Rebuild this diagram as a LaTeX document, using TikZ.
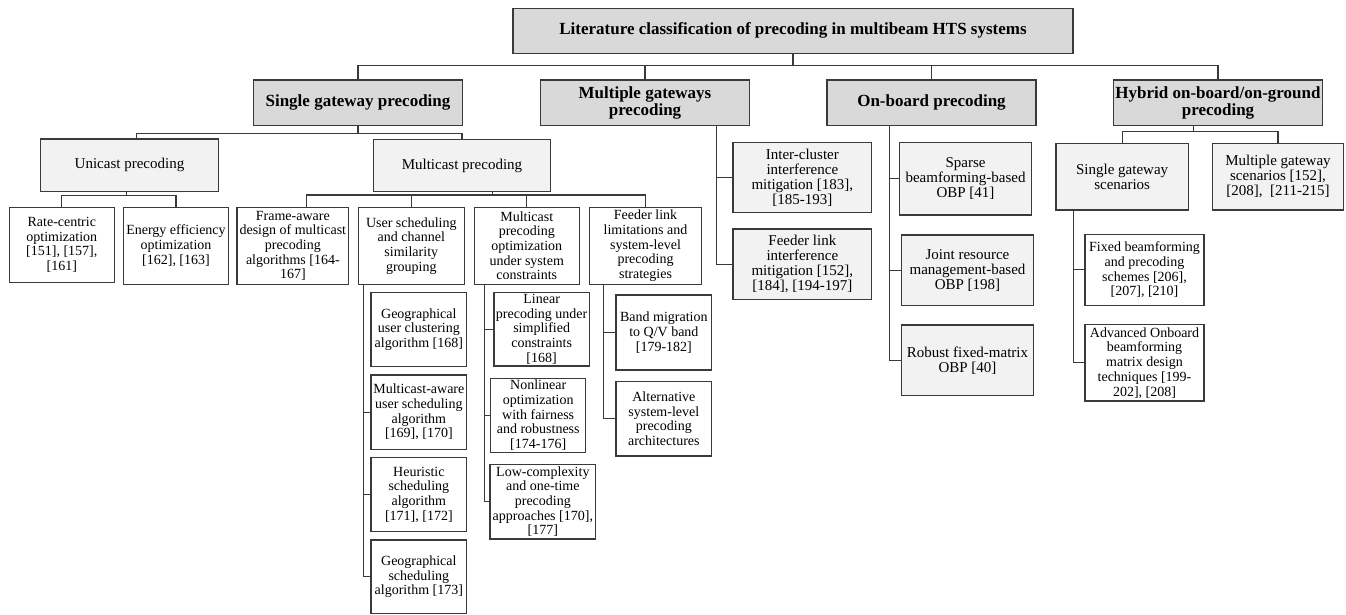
\documentclass[tikz,border=0pt]{standalone}
\usepackage{fontspec}
\setmainfont{Liberation Serif}
\definecolor{edge}{HTML}{3A3A3A}
\definecolor{boxdark}{HTML}{D9D9D9}
\definecolor{boxlight}{HTML}{F2F2F2}
\begin{document}
\begin{tikzpicture}[x=1pt,y=-1pt,
  box/.style={draw=edge, line width=1.1pt, inner xsep=1pt, inner ysep=0pt, align=center, text=black},
  sz/.style 2 args={minimum width=#1pt, minimum height=#2pt},
  topbox/.style={box, fill=boxdark, font=\fontsize{17}{17.3}\selectfont\bfseries},
  midbox/.style={box, fill=boxlight, font=\fontsize{15}{15}\selectfont},
  leafbox/.style={box, fill=white, font=\fontsize{14}{14.7}\selectfont},
  conn/.style={draw=edge, line width=1.1pt}]
\useasboundingbox (0,0) rectangle (1346,614);

% root and first level
\node[topbox, sz={560}{45}] (root) at (793,30.8) {Literature classification of precoding in multibeam HTS systems};
\node[topbox, sz={209}{45.7}] (sgp) at (358,102.85) {Single gateway precoding};
\node[topbox, sz={209}{45.7}] (mgp) at (645,102.85) {Multiple gateways\\precoding};
\node[topbox, sz={209}{45.7}] (obp) at (931.5,102.85) {On-board precoding};
\node[topbox, sz={209}{45.7}] (hyb) at (1218,102.85) {Hybrid on-board/on-ground\\precoding};

% single gateway branch
\node[midbox, sz={177.6}{52.7}] (uni) at (129.5,165.35) {Unicast precoding};
\node[midbox, sz={177.4}{52.4}] (mul) at (462,165.5) {Multicast precoding};

\node[leafbox, sz={105}{75}] (rate) at (61.8,244.8) {Rate-centric\\optimization\\{[151]}, [157],\\{[161]}};
\node[leafbox, sz={105.4}{77}] (energy) at (176,245.8) {Energy efficiency\\optimization\\{[162]}, [163]};
\node[leafbox, sz={111.7}{77}] (frame) at (292.85,245.8) {Frame-aware\\design of multicast\\precoding\\algorithms [164-\\167]};
\node[leafbox, sz={106}{77}] (us) at (411.3,245.8) {User scheduling\\and channel\\similarity\\grouping};
\node[leafbox, sz={105}{77}] (mpo) at (526.8,245.8) {Multicast\\precoding\\optimization\\under system\\constraints};
\node[leafbox, sz={112.4}{77}] (flp) at (645.5,245.8) {Feeder link\\limitations and\\system-level\\precoding\\strategies};

\node[leafbox, sz={95.7}{74.4}] (guc) at (418.85,329.5) {Geographical\\user clustering\\algorithm [168]};
\node[leafbox, sz={95.7}{74.3}] (mas) at (418.85,412.15) {Multicast-aware\\user scheduling\\algorithm\\{[169]}, [170]};
\node[leafbox, sz={95.7}{74.4}] (heu) at (418.85,494.5) {Heuristic\\scheduling\\algorithm\\{[171]}, [172]};
\node[leafbox, sz={95.7}{73.3}] (gsa) at (418.85,576.65) {Geographical\\scheduling\\algorithm [173]};

\node[leafbox, sz={95.3}{73.7}] (lin) at (541.65,329.15) {Linear\\precoding under\\simplified\\constraints\\{[168]}};
\node[leafbox, sz={95}{74}] (nonlin) at (538.2,415.3) {Nonlinear\\optimization\\with fairness\\and robustness\\{[174-176]}};
\node[leafbox, sz={105.7}{74.7}] (low) at (542.85,501.65) {Low-complexity\\and one-time\\precoding\\approaches [170],\\{[177]}};

\node[leafbox, sz={95.7}{75}] (band) at (663.85,332.5) {Band migration\\to Q/V band\\{[179-182]}};
\node[leafbox, sz={95.7}{74.3}] (alt) at (663.85,418.85) {Alternative\\system-level\\precoding\\architectures};

% multiple gateways branch
\node[midbox, sz={138.7}{70.4}] (icm) at (802.35,177.5) {Inter-cluster\\interference\\mitigation [183],\\{[185-193]}};
\node[midbox, sz={138.7}{70.3}] (fli) at (802.35,264.15) {Feeder link\\interference\\mitigation [152],\\{[184]}, [194-197]};

% on-board branch
\node[midbox, sz={132.4}{72.3}] (sparse) at (965.5,178.85) {Sparse\\beamforming-based\\OBP [41]};
\node[midbox, sz={131.6}{70.3}] (joint) at (967.5,270.15) {Joint resource\\management-based\\OBP [198]};
\node[midbox, sz={131.6}{70.7}] (robust) at (967.5,360.35) {Robust fixed-matrix\\OBP [40]};

% hybrid branch
\node[midbox, sz={132.3}{66.7}] (sgs) at (1122.15,176.65) {Single gateway\\scenarios};
\node[midbox, sz={130.6}{66.7}] (mgs) at (1278,176.65) {Multiple gateway\\scenarios [152],\\{[208]},~~[211-215]};
\node[leafbox, sz={119}{71}] (fixed) at (1144.5,269.8) {Fixed beamforming\\and precoding\\schemes [206],\\{[207]}, [210]};
\node[leafbox, sz={119}{76.3}] (adv) at (1144.5,362.85) {Advanced Onboard\\beamforming\\matrix design\\techniques [199-\\202], [208]};

% bus levels
\coordinate (bus0) at (0,65.7);
\coordinate (bus1) at (0,133.3);
\coordinate (bus2) at (0,195.7);
\coordinate (bus3) at (0,195);
\coordinate (bus4) at (0,131.7);

% root to first level
\draw[conn] (root.south) -- (root.south |- bus0);
\draw[conn] (sgp.north) -- (sgp.north |- bus0) -- (hyb.north |- bus0) -- (hyb.north);
\draw[conn] (mgp.north) -- (mgp.north |- bus0);
\draw[conn] (obp.north) -- (obp.north |- bus0);

% single gateway precoding
\draw[conn] (sgp.south) -- (sgp.south |- bus1);
\draw[conn] ([xshift=7.2pt]uni.north) -- ([xshift=7.2pt]uni.north |- bus1) -- (mul.north |- bus1) -- (mul.north);

% unicast
\draw[conn] ([xshift=-2.8pt]uni.south) -- ([xshift=-2.8pt]uni.south |- bus2);
\draw[conn] (rate.north) -- (rate.north |- bus2) -- (energy.north |- bus2) -- (energy.north);

% multicast
\draw[conn] ([xshift=30.7pt]mul.south) -- ([xshift=30.7pt]mul.south |- bus3);
\draw[conn] ([xshift=13.85pt]frame.north) -- ([xshift=13.85pt]frame.north |- bus3) -- (flp.north |- bus3) -- (flp.north);
\draw[conn] (us.north) -- (us.north |- bus3);
\draw[conn] (mpo.north) -- (mpo.north |- bus3);

% vertical trunks with side stubs
\draw[conn] ([xshift=5.7pt]us.south west) |- (mas.west);
\draw[conn] ([xshift=5.7pt]us.south west) |- (heu.west);
\draw[conn] ([xshift=5.7pt]us.south west) |- (gsa.west);

\draw[conn] ([xshift=10.7pt]mpo.south west) |- (lin.west);
\draw[conn] ([xshift=10.7pt]mpo.south west) |- (nonlin.west);
\draw[conn] ([xshift=10.7pt]mpo.south west) |- (low.west);

\draw[conn] ([xshift=14.7pt]flp.south west) |- (band.west);
\draw[conn] ([xshift=14.7pt]flp.south west) |- (alt.west);

\draw[conn] ([xshift=176.8pt]mgp.south west) |- (icm.west);
\draw[conn] ([xshift=176.8pt]mgp.south west) |- (fli.west);

\draw[conn] ([xshift=63.2pt]obp.south west) |- (sparse.west);
\draw[conn] ([xshift=63.2pt]obp.south west) |- (joint.west);
\draw[conn] ([xshift=63.2pt]obp.south west) |- (robust.west);

% hybrid
\draw[conn] ([xshift=-24.7pt]hyb.south) -- ([xshift=-24.7pt]hyb.south |- bus4);
\draw[conn] (sgs.north) -- (sgs.north |- bus4) -- (mgs.north |- bus4) -- (mgs.north);
\draw[conn] ([xshift=18.3pt]sgs.south west) |- (fixed.west);
\draw[conn] ([xshift=18.3pt]sgs.south west) |- (adv.west);
\end{tikzpicture}
\end{document}
